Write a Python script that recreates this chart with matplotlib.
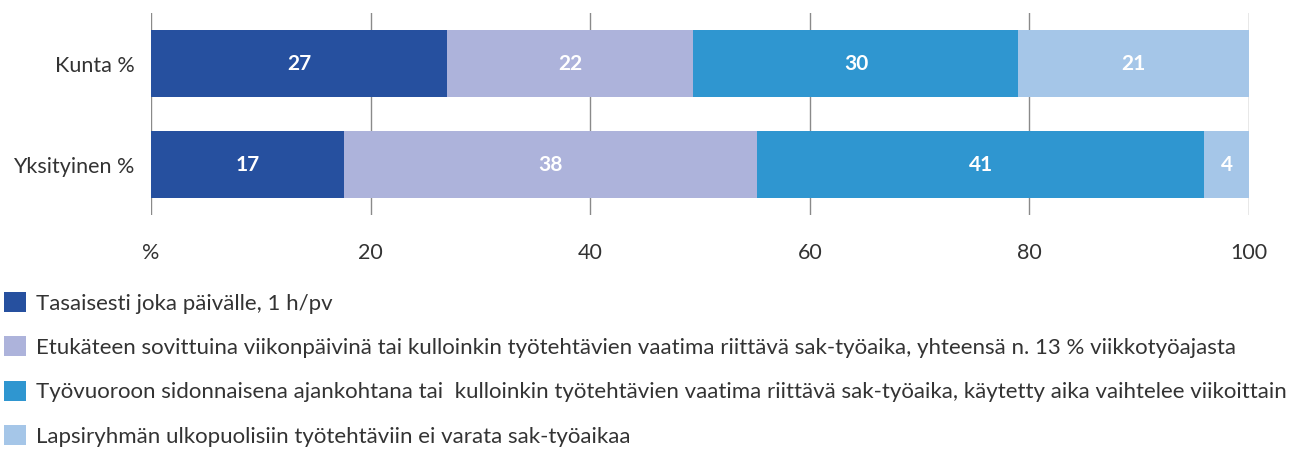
import matplotlib
matplotlib.use("Agg")
import matplotlib.pyplot as plt
from matplotlib.patches import Patch

categories = ["Kunta %", "Yksityinen %"]
series_names = [
    "Tasaisesti joka päivälle, 1 h/pv",
    "Etukäteen sovittuina viikonpäivinä tai kulloinkin työtehtävien vaatima riittävä sak-työaika, yhteensä n. 13 % viikkotyöajasta",
    "Työvuoroon sidonnaisena ajankohtana tai  kulloinkin työtehtävien vaatima riittävä sak-työaika, käytetty aika vaihtelee viikoittain",
    "Lapsiryhmän ulkopuolisiin työtehtäviin ei varata sak-työaikaa",
]
values = [
    [27.0, 17.6],
    [22.4, 37.6],
    [29.6, 40.7],
    [21.0, 4.1],
]
labels = [
    ["27", "17"],
    ["22", "38"],
    ["30", "41"],
    ["21", "4"],
]
colors = ["#26509f", "#adb3db", "#2f96d0", "#a5c6e8"]
xticks = [0, 20, 40, 60, 80, 100]
xticklabels = ["%", "20", "40", "60", "80", "100"]

plt.rcParams["font.family"] = ["Lato", "DejaVu Sans"]

fig = plt.figure(figsize=(12.91, 4.51), dpi=100)
ax = fig.add_axes([151/1291, 1-215/451, (1249-151)/1291, 202/451])

ypos = list(range(len(categories)))
left = [0.0] * len(categories)
handles = []
for name, vals, labs, c in zip(series_names, values, labels, colors):
    bars = ax.barh(ypos, vals, left=left, height=0.663, color=c, zorder=3)
    for b, lab in zip(bars, labs):
        ax.text(b.get_x() + b.get_width()/2, b.get_y() + b.get_height()/2, lab,
                ha="center", va="center", color="white", fontsize=15, fontweight="bold", zorder=4)
    left = [l + v for l, v in zip(left, vals)]
    handles.append(Patch(facecolor=c, label=name))

ax.set_xlim(0, 100)
ax.set_ylim(1.5, -0.5)
ax.set_yticks(ypos)
ax.set_yticklabels(categories, fontsize=15.5, color="#333333")
ax.set_xticks(xticks)
ax.set_xticklabels(xticklabels, fontsize=15.5, color="#333333")
ax.tick_params(axis="both", length=0)
ax.tick_params(axis="x", pad=20)
ax.tick_params(axis="y", pad=12)
for s in ax.spines.values():
    s.set_visible(False)
ax.grid(axis="x", color="#8a8a8a", linewidth=1.0, zorder=0)

fig.legend(handles=handles, loc="upper left", bbox_to_anchor=(4/1291, 1-292/451),
           frameon=False, fontsize=16.0, handlelength=1.0, handleheight=1.0,
           handletextpad=0.42, labelspacing=1.03, borderaxespad=0, borderpad=0,
           labelcolor="#333333")

fig.savefig("out.png", dpi=100)
